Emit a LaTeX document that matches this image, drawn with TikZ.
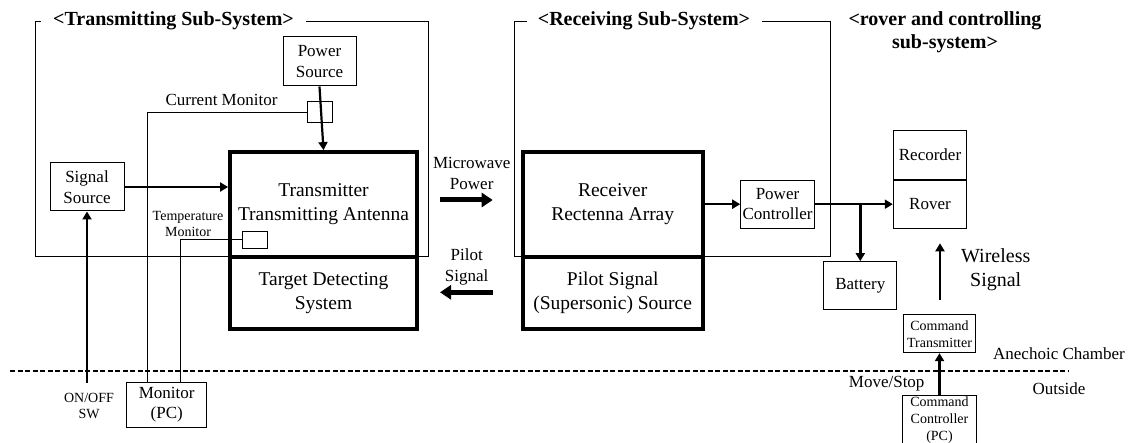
\documentclass[tikz,border=0pt]{standalone}
\usepackage{fontspec}
\setmainfont{Liberation Serif}
\usetikzlibrary{arrows.meta, positioning, calc}
\tikzset{
  every picture/.style={x=1pt, y=-1pt, line width=1pt},
  box/.style={draw, fill=white, align=center, inner sep=0pt, font=\fontsize{17}{20.5}\selectfont},
  bigbox/.style={draw, fill=white, line width=3.8pt, align=center, inner sep=0pt, font=\fontsize{19.5}{24}\selectfont},
  smallbox/.style={box, font=\fontsize{14}{17}\selectfont},
  frame/.style={line width=1pt},
  arrow/.style={-{Triangle[length=8pt, width=9pt]}, line width=2.2pt},
  fatarrow/.style={-{Triangle[length=11pt, width=14pt]}, line width=5pt},
  title/.style={font=\fontsize{20}{23}\selectfont\bfseries, align=center},
  label/.style={font=\fontsize{17}{20.5}\selectfont, align=center},
  smalllabel/.style={font=\fontsize{14}{16.5}\selectfont, align=center},
}

\begin{document}
\begin{tikzpicture}
  \useasboundingbox (0,0) rectangle (1131,443);
  % sub-system frames
  \draw[frame] (41,22) -- (35,22) -- (35,257) -- (428.7,257) -- (428.7,22) -- (306,22);
  \draw[frame] (526.7,22) -- (514.3,22) -- (514.3,257) -- (830.7,257) -- (830.7,22) -- (762,22);
  \node[title] (txtitle) at (173.5,21) {<Transmitting Sub-System>};
  \node[title] (rxtitle) at (644,21) {<Receiving Sub-System>};
  \node[title] (rovtitle) at (945,32) {<rover and controlling\\sub-system>};

  % anechoic chamber boundary
  \coordinate (dashL) at (10,370.7);
  \coordinate (dashR) at (1068,370.7);
  \draw[dash pattern=on 5pt off 2.5pt, line width=1.7pt] (dashL) -- (dashR);
  \node[label] (inside) at (1059,353.3) {Anechoic Chamber};
  \node[label] (outside) at (1059,388.3) {Outside};

  % transmitting side
  \node[bigbox, minimum width=187pt, minimum height=105pt] (tx) at (323.5,204.5) {Transmitter\\Transmitting Antenna};
  \node[bigbox, minimum width=187pt, minimum height=72pt] (tgt) at (323.5,293) {Target Detecting\\System};
  \node[box, minimum width=73pt, minimum height=49pt] (psrc) at (319.5,61.5) {Power\\Source};
  \node[box, minimum width=74pt, minimum height=48pt] (sigsrc) at (87,187) {Signal\\Source};
  \node[box, minimum width=25pt, minimum height=21pt] (curmon) at (319.5,112.5) {};
  \node[box, minimum width=25pt, minimum height=16.6pt] (tempmon) at (254.5,240) {};
  \node[box, minimum width=80pt, minimum height=45pt] (monpc) at (166.7,404.8) {Monitor\\(PC)};
  \node[label] (curlbl) at (221.5,100) {Current Monitor};
  \node[smalllabel] (templbl) at (188,224) {Temperature\\Monitor};
  \node[smalllabel] (swlbl) at (89,406) {ON/OFF\\SW};
  \coordinate (swend) at (87,382.7);

  \draw[arrow] (psrc.south) -- (tx.north);
  \draw[arrow] (sigsrc.east) -- (sigsrc.east -| tx.west);
  \draw[arrow] (swend) -- (sigsrc.south);
  \draw (curmon.west) -| ([xshift=-19.4pt]monpc.north);
  \draw (tempmon.west) -| ([xshift=13.3pt]monpc.north);

  % link between sub-systems
  \coordinate (mwA) at (440,200);
  \coordinate (mwB) at (492.7,200);
  \coordinate (plA) at (492.7,292.3);
  \coordinate (plB) at (440,292.3);
  \draw[fatarrow] (mwA) -- (mwB);
  \draw[fatarrow] (plA) -- (plB);
  \node[label] (mwlbl) at (471.7,173.5) {Microwave\\Power};
  \node[label] (pllbl) at (466.7,266.7) {Pilot\\Signal};

  % receiving side
  \node[bigbox, minimum width=180pt, minimum height=105pt] (rx) at (612.7,204.5) {Receiver\\Rectenna Array};
  \node[bigbox, minimum width=180pt, minimum height=72pt] (pilot) at (612.7,293) {Pilot Signal\\(Supersonic) Source};
  \node[box, minimum width=73.6pt, minimum height=48.3pt] (pwrctl) at (777.5,204.2) {Power\\Controller};

  % rover and controlling side
  \node[box, minimum width=73.4pt, minimum height=49.3pt] (recorder) at (930,154.7) {Recorder};
  \node[box, minimum width=73.4pt, minimum height=48.3pt] (rover) at (930,204.2) {Rover};
  \node[box, minimum width=72.7pt, minimum height=48.3pt] (battery) at (860.3,285.8) {Battery};
  \node[smallbox, minimum width=72.7pt, minimum height=37.7pt] (cmdtx) at (939.5,333.8) {Command\\Transmitter};
  \node[smallbox, minimum width=73.4pt, minimum height=50pt] (cmdctl) at (939.5,420) {Command\\Controller\\(PC)};
  \coordinate (wsA) at (940,300);
  \coordinate (wsB) at (940,243.3);
  \node[font=\fontsize{20}{24.5}\selectfont, align=center] (wslbl) at (995.7,269.5) {Wireless\\Signal};
  \node[label] (mslbl) at (886.7,384) {Move/Stop};

  \draw[arrow, line width=2pt] (rx.east |- pwrctl.west) -- (pwrctl.west);
  \draw[arrow, line width=2.6pt] (pwrctl.east) -- (rover.west |- pwrctl.east);
  \coordinate (branch) at (pwrctl.east -| battery.north);
  \draw[arrow, line width=2.6pt] (branch) -- (battery.north);
  \draw[arrow] (wsA) -- (wsB);
  \draw[arrow] (cmdctl.north) -- (cmdtx.south);
\end{tikzpicture}
\end{document}
